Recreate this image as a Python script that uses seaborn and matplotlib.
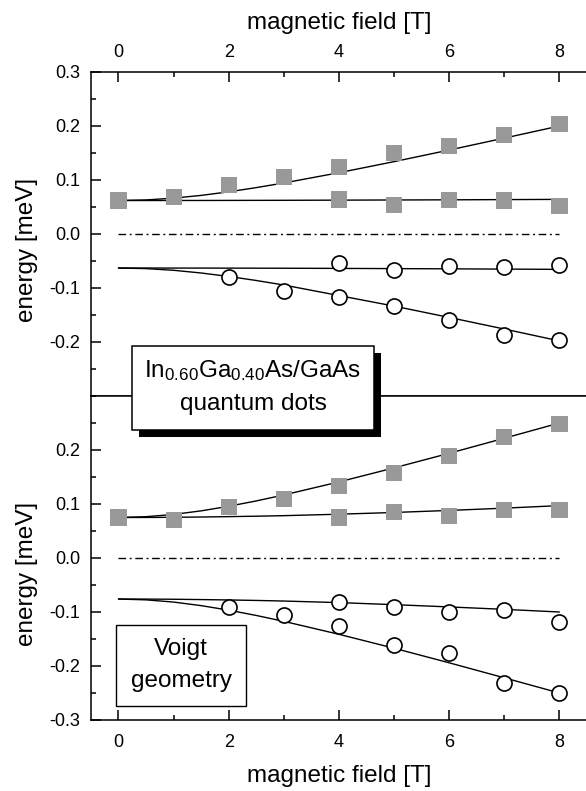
import matplotlib
matplotlib.use("Agg")
import matplotlib.pyplot as plt
from matplotlib.patches import Rectangle
from matplotlib.ticker import MultipleLocator, FixedLocator, FormatStrFormatter
import pandas as pd
import seaborn as sns

sns.set_theme(style="ticks")
plt.rcParams["font.family"] = ["Liberation Sans", "DejaVu Sans"]
plt.rcParams["mathtext.default"] = "regular"
plt.rcParams["axes.unicode_minus"] = False

# ---------------- measured splittings ----------------
field = [0, 1, 2, 3, 4, 5, 6, 7, 8]

# upper panel
top_sq_hi_B = [0, 1, 2, 3, 4, 5, 6, 7, 8]
top_sq_hi_E = [0.062, 0.068, 0.090, 0.105, 0.124, 0.150, 0.163, 0.184, 0.203]
top_sq_lo_B = [4, 5, 6, 7, 8]
top_sq_lo_E = [0.064, 0.053, 0.063, 0.062, 0.052]
top_ci_hi_B = [4, 5, 6, 7, 8]
top_ci_hi_E = [-0.054, -0.066, -0.060, -0.062, -0.058]
top_ci_lo_B = [2, 3, 4, 5, 6, 7, 8]
top_ci_lo_E = [-0.080, -0.105, -0.117, -0.133, -0.160, -0.187, -0.196]

# lower panel
bot_sq_hi_B = [0, 1, 2, 3, 4, 5, 6, 7, 8]
bot_sq_hi_E = [0.075, 0.070, 0.095, 0.110, 0.134, 0.158, 0.189, 0.224, 0.248]
bot_sq_lo_B = [4, 5, 6, 7, 8]
bot_sq_lo_E = [0.075, 0.085, 0.078, 0.089, 0.089]
bot_ci_hi_B = [4, 5, 6, 7, 8]
bot_ci_hi_E = [-0.081, -0.091, -0.100, -0.096, -0.119]
bot_ci_lo_B = [2, 3, 4, 5, 6, 7, 8]
bot_ci_lo_E = [-0.091, -0.106, -0.125, -0.161, -0.176, -0.232, -0.250]

# ---------------- model curves ----------------
fit_B = [0, 0.5, 1, 1.5, 2, 2.5, 3, 4, 5, 6, 7, 8]
top_fit_sq_hi = [0.062, 0.0631, 0.0664, 0.0715, 0.0781, 0.0859, 0.0945, 0.1135, 0.1340, 0.1555, 0.1776, 0.2000]
top_fit_sq_lo = [0.062, 0.0620, 0.0621, 0.0621, 0.0622, 0.0623, 0.0624, 0.0627, 0.0630, 0.0633, 0.0637, 0.0641]
top_fit_ci_hi = [-0.063, -0.0630, -0.0631, -0.0631, -0.0632, -0.0633, -0.0634, -0.0637, -0.0641, -0.0645, -0.0650, -0.0655]
top_fit_ci_lo = [-0.063, -0.0641, -0.0672, -0.0722, -0.0786, -0.0861, -0.0945, -0.1140, -0.1335, -0.1545, -0.1760, -0.1980]

bot_fit_sq_hi = [0.075, 0.0765, 0.0807, 0.0873, 0.0958, 0.1057, 0.1167, 0.1409, 0.1669, 0.1939, 0.2218, 0.2500]
bot_fit_sq_lo = [0.075, 0.0751, 0.0754, 0.0759, 0.0766, 0.0774, 0.0784, 0.0811, 0.0843, 0.0881, 0.0923, 0.0970]
bot_fit_ci_hi = [-0.076, -0.0761, -0.0764, -0.0770, -0.0777, -0.0786, -0.0797, -0.0826, -0.0864, -0.0906, -0.0951, -0.1000]
bot_fit_ci_lo = [-0.076, -0.0775, -0.0816, -0.0882, -0.0966, -0.1064, -0.1173, -0.1413, -0.1671, -0.1941, -0.2219, -0.2500]

top_yticks = [-0.2, -0.1, 0.0, 0.1, 0.2, 0.3]
bot_yticks = [-0.3, -0.2, -0.1, 0.0, 0.1, 0.2]
x_ticks = [0, 2, 4, 6, 8]

# ---------------- figure ----------------
W, H = 586, 791
fig = plt.figure(figsize=(W / 100, H / 100), dpi=100)


def px_rect(x0, y0, x1, y1):
    """Rectangle given in pixels measured from the top-left corner."""
    return [x0 / W, 1 - y1 / H, (x1 - x0) / W, (y1 - y0) / H]


ax_top = fig.add_axes(px_rect(90.9, 72, 587, 396))
ax_bot = fig.add_axes(px_rect(90.9, 396, 587, 720))

SQ_COLOR = "#999999"


def draw_panel(ax, sq_sets, ci_sets, fits):
    for yv in fits:
        sns.lineplot(x=fit_B, y=yv, color="black", lw=1.0, ax=ax,
                     estimator=None, sort=False, zorder=2)
    ax.hlines(0.0, field[0], field[-1], colors="black", lw=1.0,
              linestyles=(0, (5.5, 2.6, 1.4, 2.6)), zorder=2)
    for bx, ey in sq_sets:
        df = pd.DataFrame({"B": bx, "E": ey})
        sns.scatterplot(data=df, x="B", y="E", marker="s", s=135,
                        color=SQ_COLOR, edgecolor="none", ax=ax, zorder=3)
    for bx, ey in ci_sets:
        df = pd.DataFrame({"B": bx, "E": ey})
        sns.scatterplot(data=df, x="B", y="E", marker="o", s=118,
                        color="white", edgecolor="black", linewidth=1.2,
                        ax=ax, zorder=3)


draw_panel(ax_top,
           [(top_sq_hi_B, top_sq_hi_E), (top_sq_lo_B, top_sq_lo_E)],
           [(top_ci_hi_B, top_ci_hi_E), (top_ci_lo_B, top_ci_lo_E)],
           [top_fit_sq_hi, top_fit_sq_lo, top_fit_ci_hi, top_fit_ci_lo])
draw_panel(ax_bot,
           [(bot_sq_hi_B, bot_sq_hi_E), (bot_sq_lo_B, bot_sq_lo_E)],
           [(bot_ci_hi_B, bot_ci_hi_E), (bot_ci_lo_B, bot_ci_lo_E)],
           [bot_fit_sq_hi, bot_fit_sq_lo, bot_fit_ci_hi, bot_fit_ci_lo])

for ax, yt in ((ax_top, top_yticks), (ax_bot, bot_yticks)):
    ax.set_xlim(-0.5, 8.5)
    ax.set_ylim(-0.3, 0.3)
    ax.xaxis.set_major_locator(FixedLocator(x_ticks))
    ax.xaxis.set_minor_locator(MultipleLocator(1))
    ax.yaxis.set_major_locator(FixedLocator(yt))
    ax.yaxis.set_minor_locator(MultipleLocator(0.05))
    ax.yaxis.set_major_formatter(FormatStrFormatter("%.1f"))
    ax.tick_params(which="major", direction="in", length=7, width=1.1,
                   labelsize=13, color="black", labelcolor="black")
    ax.tick_params(which="minor", direction="in", length=3.4, width=1.1,
                   color="black")
    ax.tick_params(axis="y", which="both", left=True, right=False, pad=7.5)
    for sp in ax.spines.values():
        sp.set_linewidth(1.1)
        sp.set_color("black")
    ax.set_ylabel("energy [meV]", fontsize=17.5, color="black")
    ax.set_facecolor("white")

ax_top.tick_params(axis="x", which="both", top=True, bottom=False,
                   labeltop=True, labelbottom=False, pad=8)
ax_top.xaxis.set_label_position("top")
ax_top.set_xlabel("magnetic field [T]", fontsize=17.5, color="black", labelpad=10.5)
ax_bot.tick_params(axis="x", which="both", top=False, bottom=True,
                   labeltop=False, labelbottom=True, pad=10)
ax_bot.set_xlabel("magnetic field [T]", fontsize=17.5, color="black", labelpad=10)

ax_top.yaxis.set_label_coords(-0.107, 0.45)
ax_bot.yaxis.set_label_coords(-0.107, 0.45)

# ---------------- annotation boxes ----------------
def fig_box(x0, y0, x1, y1, face, lw):
    r = px_rect(x0, y0, x1, y1)
    fig.add_artist(Rectangle((r[0], r[1]), r[2], r[3], transform=fig.transFigure,
                             facecolor=face, edgecolor="black", linewidth=lw,
                             zorder=5))


fig_box(139, 353, 381, 437, "black", 0)                  # drop shadow
fig_box(132, 346, 374, 430, "white", 1.1)
fig.text(253 / W, 1 - 377 / H, r"In$_{0.60}$Ga$_{0.40}$As/GaAs",
         ha="center", va="baseline", fontsize=17.5, color="black", zorder=6)
fig.text(253 / W, 1 - 410 / H, "quantum dots",
         ha="center", va="baseline", fontsize=17.5, color="black", zorder=6)

fig_box(116, 625, 246, 706, "white", 1.0)
fig.text(181 / W, 1 - 655 / H, "Voigt",
         ha="center", va="baseline", fontsize=17.5, color="black", zorder=6)
fig.text(181 / W, 1 - 687 / H, "geometry",
         ha="center", va="baseline", fontsize=17.5, color="black", zorder=6)

fig.savefig("out.png", dpi=100, facecolor="white")
